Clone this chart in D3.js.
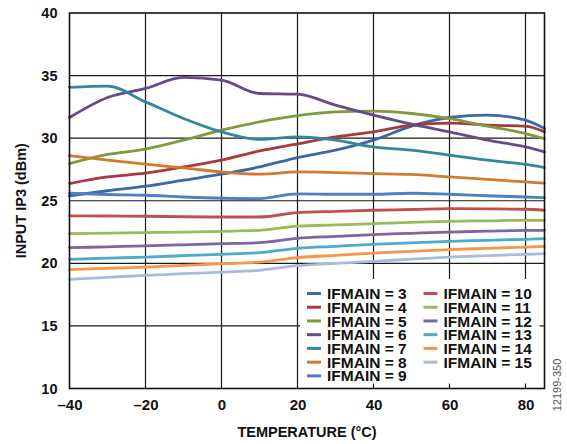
<!DOCTYPE html>
<html><head><meta charset="utf-8">
<script src="https://cdn.jsdelivr.net/npm/d3@7"></script>
<style>body{margin:0;background:#fff}svg{display:block}text{font-family:"Liberation Sans",Arial,sans-serif}</style>
</head><body><svg id="c" width="567" height="444"></svg>
<script>
const temps = [-40,-30,-20,-10,0,10,20,30,40,50,60,70,80,85];
const xTicks = [-40,-20,0,20,40,60,80];
const yTicks = [10,15,20,25,30,35,40];
const seriesNames = ["IFMAIN = 3","IFMAIN = 4","IFMAIN = 5","IFMAIN = 6","IFMAIN = 7","IFMAIN = 8","IFMAIN = 9","IFMAIN = 10","IFMAIN = 11","IFMAIN = 12","IFMAIN = 13","IFMAIN = 14","IFMAIN = 15"];
const colors = ["#3c69a3","#a63b39","#7f9b3e","#674a89","#33879c","#d27b30","#4d80c0","#c0504d","#9bbb59","#8064a2","#4bacc6","#f79646","#a9badb"];
const ifmain3  = [25.4,25.8,26.16,26.64,27.12,27.7,28.45,29.04,29.84,30.96,31.65,31.84,31.44,30.77];
const ifmain4  = [26.37,26.9,27.2,27.7,28.24,28.98,29.55,30.1,30.5,31.04,31.2,31.04,30.96,30.5];
const ifmain5  = [27.97,28.7,29.12,29.84,30.64,31.3,31.8,32.1,32.16,31.97,31.57,30.96,30.37,29.97];
const ifmain6  = [31.65,33.25,33.97,34.85,34.64,33.57,33.52,32.64,31.84,31.12,30.5,29.84,29.3,28.9];
const ifmain7  = [34.05,34.15,32.9,31.57,30.5,29.9,30.1,29.84,29.3,29.04,28.64,28.24,27.9,27.65];
const ifmain8  = [28.6,28.24,27.92,27.62,27.3,27.12,27.3,27.25,27.17,27.1,26.9,26.7,26.5,26.4];
const ifmain9  = [25.6,25.5,25.44,25.3,25.2,25.17,25.55,25.52,25.52,25.6,25.52,25.4,25.3,25.25];
const ifmain10 = [23.79,23.78,23.76,23.72,23.7,23.7,24.05,24.15,24.24,24.3,24.37,24.35,24.32,24.24];
const ifmain11 = [22.37,22.41,22.45,22.5,22.56,22.64,22.97,23.07,23.17,23.27,23.36,23.4,23.44,23.44];
const ifmain12 = [21.25,21.32,21.39,21.48,21.57,21.65,22.0,22.15,22.3,22.4,22.5,22.57,22.64,22.64];
const ifmain13 = [20.32,20.41,20.5,20.61,20.72,20.85,21.2,21.36,21.52,21.64,21.76,21.84,21.92,21.97];
const ifmain14 = [19.5,19.6,19.7,19.83,19.97,20.1,20.46,20.64,20.82,20.96,21.1,21.2,21.3,21.36];
const ifmain15 = [18.72,18.88,19.04,19.17,19.3,19.44,19.82,19.99,20.16,20.33,20.5,20.61,20.72,20.77];
const allSeries = [ifmain3,ifmain4,ifmain5,ifmain6,ifmain7,ifmain8,ifmain9,ifmain10,ifmain11,ifmain12,ifmain13,ifmain14,ifmain15];

const svg = d3.select("#c");
const L = 69.5, R = 544.5, T = 13, B = 388.5;
const x = d3.scaleLinear().domain([-40,85]).range([L,R]);
const y = d3.scaleLinear().domain([10,40]).range([B,T]);
const fmt = v => (v < 0 ? "\u2013" + Math.abs(v) : String(v));

// grid
const grid = svg.append("g").attr("stroke","#1a1a1a").attr("stroke-width",1.2);
grid.selectAll(".gx").data(xTicks.filter(v=>v>-40)).join("line")
  .attr("x1",d=>x(d)).attr("x2",d=>x(d)).attr("y1",T).attr("y2",B);
grid.selectAll(".gy").data(yTicks.filter(v=>v>10 && v<40)).join("line")
  .attr("x1",L).attr("x2",R).attr("y1",d=>y(d)).attr("y2",d=>y(d));

// lines
const line = d3.line().x((d,i)=>x(temps[i])).y(d=>y(d)).curve(d3.curveMonotoneX);
svg.append("g").selectAll("path").data(allSeries).join("path")
  .attr("d",line).attr("fill","none")
  .attr("stroke",(d,i)=>colors[i]).attr("stroke-width",2.8)
  .attr("stroke-linejoin","round").attr("stroke-linecap","round");

// legend background
svg.append("rect").attr("x",300).attr("y",279).attr("width",R-300).attr("height",B-279).attr("fill","#fff");

// inner ticks over legend
const tk = svg.append("g").attr("stroke","#1a1a1a").attr("stroke-width",1.2);
tk.selectAll(".bt").data(xTicks.filter(v=>v>=40)).join("line")
  .attr("x1",d=>x(d)).attr("x2",d=>x(d)).attr("y1",B).attr("y2",B-5);
tk.append("line").attr("x1",R).attr("x2",R-5).attr("y1",y(15)).attr("y2",y(15));

// legend entries
const leg = svg.append("g");
seriesNames.forEach((name,i)=>{
  const col = i < 7 ? 0 : 1, row = i < 7 ? i : i - 7;
  const lx = col === 0 ? 307 : 423.5, ty = 293.5 + row*13.73;
  leg.append("line").attr("x1",lx).attr("x2",lx+14).attr("y1",ty).attr("y2",ty)
    .attr("stroke",colors[i]).attr("stroke-width",3);
  leg.append("text").attr("x",lx+20).attr("y",ty).attr("dy","0.36em")
    .attr("font-size","15.5px").attr("font-weight","bold").attr("fill","#111").text(name);
});

// frame
svg.append("rect").attr("x",L).attr("y",T).attr("width",R-L).attr("height",B-T)
  .attr("fill","none").attr("stroke","#111").attr("stroke-width",1.6);

// axes labels
const xAxis = d3.axisBottom(x).tickValues(xTicks).tickFormat(fmt).tickSize(0).tickPadding(11);
const gx = svg.append("g").attr("transform",`translate(0,${B})`).call(xAxis);
gx.select(".domain").remove();
gx.selectAll("text").attr("font-size","15px").attr("font-weight","bold").attr("fill","#111")
  .attr("font-family","Liberation Sans, Arial, sans-serif");
const yAxis = d3.axisLeft(y).tickValues(yTicks).tickFormat(fmt).tickSize(0).tickPadding(12);
const gy = svg.append("g").attr("transform",`translate(${L},0)`).call(yAxis);
gy.select(".domain").remove();
gy.selectAll("text").attr("font-size","14.5px").attr("font-weight","bold").attr("fill","#111")
  .attr("font-family","Liberation Sans, Arial, sans-serif");

svg.append("text").attr("x",(L+R)/2).attr("y",437).attr("text-anchor","middle")
  .attr("font-size","14.5px").attr("font-weight","bold").attr("fill","#111").text("TEMPERATURE (°C)");
svg.append("text").attr("transform",`translate(26,${(T+B)/2}) rotate(-90)`).attr("text-anchor","middle")
  .attr("font-size","14.5px").attr("font-weight","bold").attr("fill","#111").text("INPUT IP3 (dBm)");
svg.append("text").attr("transform",`translate(561,385) rotate(-90)`).attr("text-anchor","middle")
  .attr("font-size","11px").attr("fill","#555").text("12199-350");
</script></body></html>
